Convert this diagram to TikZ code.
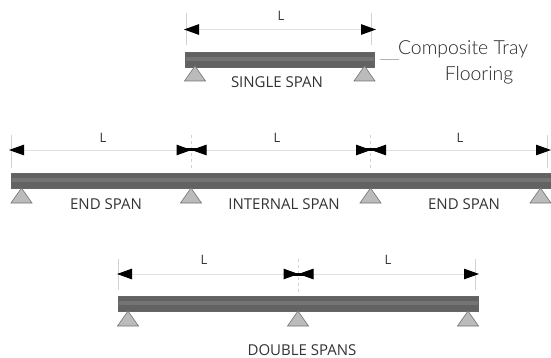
\documentclass[tikz,border=0pt]{standalone}
\usepackage{fontspec}
\setmainfont{Open Sans}
\newfontfamily\lightfont{Lato Light}
\usetikzlibrary{arrows.meta}
\definecolor{beamdark}{HTML}{626262}
\definecolor{beamlight}{HTML}{747474}
\definecolor{supportgray}{HTML}{BBBBBB}
\definecolor{dimgray}{HTML}{E2E2E2}
\definecolor{labelgray}{HTML}{333333}
\definecolor{tickgray}{HTML}{D2D2D2}
\tikzset{
  x=1pt,y=-1pt,
  blacktip/.tip={Triangle[length=15pt,width=10.5pt,color=black,line width=1pt]},
  dimline/.style={draw=dimgray,line width=0.8pt,{blacktip}-{blacktip}},
  waist/.style={draw=black,line width=3pt},
  tickline/.style={draw=tickgray,line width=0.8pt},
  dashtick/.style={tickline,dash pattern=on 3pt off 3pt},
  support/.style={draw=black!55,fill=supportgray,line width=0.6pt,line join=miter},
  spanlabel/.style={font=\fontsize{15}{17}\selectfont,text=labelgray,inner sep=0pt},
  lenlabel/.style={font=\fontsize{13}{15}\selectfont,text=black!80,inner sep=0pt},
  calloutlabel/.style={font=\lightfont\fontsize{19.4}{22}\selectfont,text=black!85,inner sep=0pt},
}
\newcommand{\beamat}[3]{% x1,x2,ytop
  \fill[beamdark] (#1,#3) rectangle (#2,#3+15);
  \fill[beamlight] (#1,#3+5) rectangle (#2,#3+9);
  \draw[black!60,line width=0.5pt] (#1,#3) rectangle (#2,#3+15);
}
\newcommand{\supportat}[2]{% apex x, apex y
  \draw[support] (#1,#2) -- (#1-10.5,#2+15) -- (#1+10.5,#2+15) -- cycle;
}
\begin{document}
\begin{tikzpicture}
\useasboundingbox (0,0) rectangle (551,358);
% single span
\beamat{185}{374.5}{52}
\supportat{195}{66}\supportat{364.5}{66}
\coordinate (s1) at (184,29.5);\coordinate (s2) at (376,29.5);
\draw[tickline] (186,13) -- (186,45);
\draw[tickline] (371.5,13) -- (371.5,45);
\draw[dimline] (s1) -- (s2);
\node[lenlabel] (sL) at (281,15.5) {L};
\node[spanlabel] (sT) at (277,82) {SINGLE SPAN};
\node[calloutlabel] (c1) at (463,49.5) {Composite Tray};
\node[calloutlabel] (c2) at (479,75) {Flooring};
\coordinate (lead) at (380,59);
\draw[draw=black!30,line width=0.8pt] (lead) -- (399,59);
% continuous
\beamat{11}{551}{173.5}
\supportat{21.5}{188}\supportat{191}{188}\supportat{370.5}{188}\supportat{540.5}{188}
\coordinate (a0) at (9,150);\coordinate (a1) at (191.5,150);
\coordinate (a2) at (371,150);\coordinate (a3) at (551,150);
\draw[tickline] (11.5,135) -- (11.5,168);
\draw[dashtick] (191.5,135) -- (191.5,168);
\draw[dashtick] (370,135) -- (370,168);
\draw[tickline] (547.5,135) -- (547.5,168);
\draw[dimline] (a0) -- (a1);
\draw[dimline] (a1) -- (a2);
\draw[dimline] (a2) -- (a3);
\draw[waist] ([xshift=-7pt]a1) -- ([xshift=7pt]a1);
\draw[waist] ([xshift=-7pt]a2) -- ([xshift=7pt]a2);
\node[lenlabel] (aL1) at (103,138) {L};
\node[lenlabel] (aL2) at (277,138) {L};
\node[lenlabel] (aL3) at (460,138) {L};
\node[spanlabel] (aT1) at (106,204.5) {END SPAN};
\node[spanlabel] (aT2) at (284,204.5) {INTERNAL SPAN};
\node[spanlabel] (aT3) at (464,204.5) {END SPAN};
% double
\beamat{118}{478}{296}
\supportat{128}{311}\supportat{298}{311}\supportat{468}{311}
\coordinate (d0) at (117,274);\coordinate (d1) at (298.5,274);\coordinate (d2) at (479,274);
\draw[tickline] (118.5,259) -- (118.5,290);
\draw[dashtick] (298,259) -- (298,292);
\draw[tickline] (475,259) -- (475,290);
\draw[dimline] (d0) -- (d1);
\draw[dimline] (d1) -- (d2);
\draw[waist] ([xshift=-7pt]d1) -- ([xshift=7pt]d1);
\node[lenlabel] (dL1) at (204,260) {L};
\node[lenlabel] (dL2) at (388,260) {L};
\node[spanlabel] (dT) at (302,350) {DOUBLE SPANS};
\end{tikzpicture}
\end{document}
